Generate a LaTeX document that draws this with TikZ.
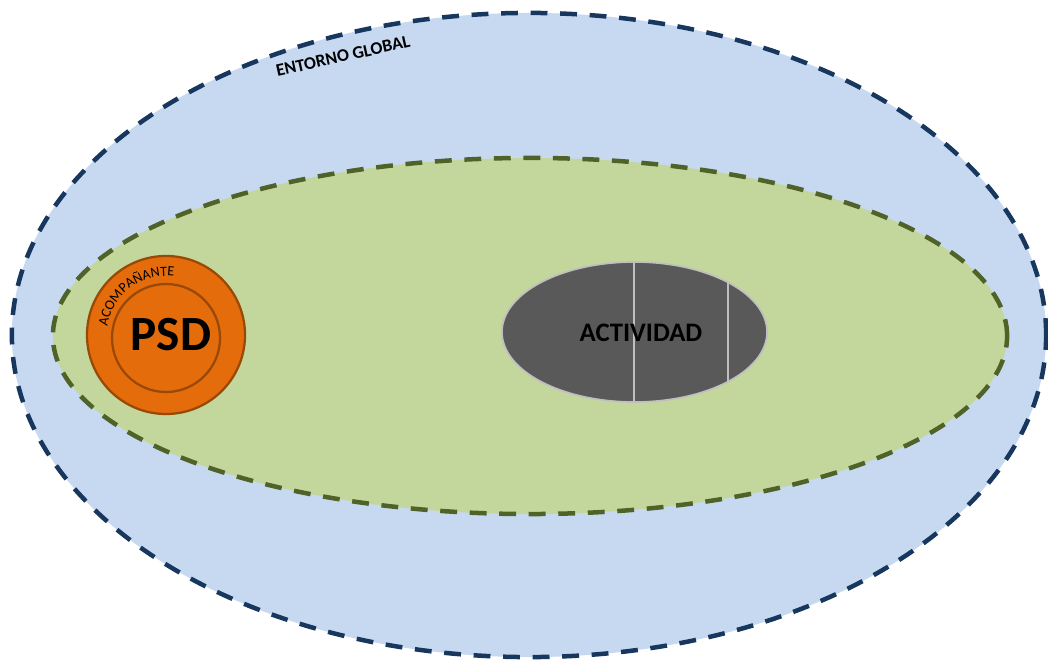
\documentclass[tikz,border=0pt]{standalone}
\usepackage{fontspec}
\setmainfont{Carlito}
\usetikzlibrary{shapes.geometric,decorations.text}
\definecolor{outerfill}{HTML}{C6D9F1}
\definecolor{outerline}{HTML}{17375E}
\definecolor{greenfill}{HTML}{C3D69B}
\definecolor{greenline}{HTML}{4F6228}
\definecolor{orangefill}{HTML}{E46C0A}
\definecolor{orangeline}{HTML}{984807}
\definecolor{grayfill}{HTML}{595959}
\definecolor{grayline}{HTML}{BFBFBF}
\tikzset{
  dashring/.style={ellipse, inner sep=0pt, line width=3.2pt, dash pattern=on 12pt off 9pt},
  psdring/.style={circle, inner sep=0pt, draw=orangeline, line width=1.6pt},
}
\begin{document}
\begin{tikzpicture}[x=0.025cm,y=0.025cm]
\useasboundingbox (0,0) rectangle (1048,660);
\node[dashring, fill=outerfill, draw=outerline, minimum width=25.85cm, minimum height=16.1cm] (outer) at (529,325) {};
\node[dashring, fill=greenfill, draw=greenline, minimum width=23.85cm, minimum height=8.9cm] (env) at (530,324) {};
\node[psdring, fill=orangefill, minimum size=3.95cm] (acomp) at (166,325) {};
\node[psdring, fill=orangefill, minimum size=2.7cm] (psdc) at (166,322) {};
\node[font=\bfseries\fontsize{35}{35}\selectfont] (psd) at (171,325) {PSD};
\path[decorate, decoration={text along path, text align=center, text={|\fontsize{10}{10}\selectfont|ACOMPAÑANTE}}]
  (acomp.center) ++(178:59) arc[start angle=178, end angle=76, radius=1.475cm];
\node[ellipse, inner sep=0pt, fill=grayfill, draw=grayline, line width=1.2pt, minimum width=6.625cm, minimum height=3.5cm] (act) at (634.5,328) {};
\coordinate (l1t) at (634,398);
\coordinate (l1b) at (634,258);
\coordinate (l2t) at (728,377.6);
\coordinate (l2b) at (728,278.4);
\draw[grayline, line width=1pt] (l1t) -- (l1b);
\draw[grayline, line width=1pt] (l2t) -- (l2b);
\node[font=\bfseries\fontsize{19}{19}\selectfont] (actt) at (641,327) {ACTIVIDAD};
\node[font=\bfseries\fontsize{12.6}{12.6}\selectfont, rotate=12.5] (glob) at (343,604) {ENTORNO GLOBAL};
\end{tikzpicture}
\end{document}
